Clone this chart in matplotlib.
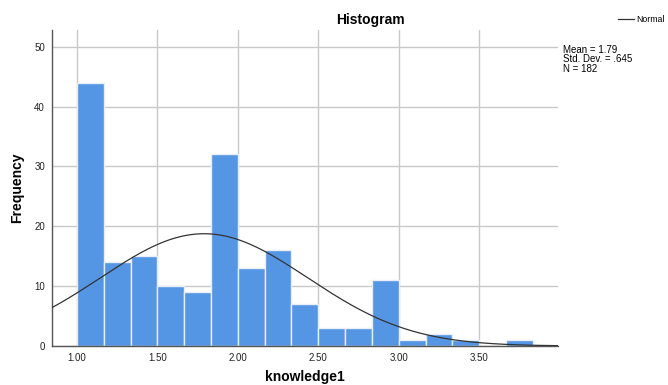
import numpy as np
import matplotlib
matplotlib.use("Agg")
import matplotlib.pyplot as plt

# Data
bin_start = 1.0
bin_width = 1.0 / 6.0
counts = [44, 14, 15, 10, 9, 32, 13, 16, 7, 3, 3, 11, 1, 2, 1, 0, 1]
mean_val = 1.79
std_val = 0.645
n_val = 182
x_ticks = [1.0, 1.5, 2.0, 2.5, 3.0, 3.5]
x_tick_labels = ["1.00", "1.50", "2.00", "2.50", "3.00", "3.50"]
y_ticks = [0, 10, 20, 30, 40, 50]

plt.rcParams['font.family'] = ['Liberation Sans', 'DejaVu Sans']

W, H = 668, 385
fig = plt.figure(figsize=(W / 100, H / 100), dpi=100)
ax = fig.add_axes([52 / W, 1 - 346 / H, (558 - 52) / W, (346 - 30) / H])

edges = bin_start + bin_width * np.arange(len(counts) + 1)
ax.bar(edges[:-1], counts, width=bin_width, align='edge', color='#5596e4',
       edgecolor='#e8eef8', linewidth=1.0, zorder=2)

xs = np.linspace(0.845, 3.99, 400)
ys = n_val * bin_width / (std_val * np.sqrt(2 * np.pi)) * np.exp(-0.5 * ((xs - mean_val) / std_val) ** 2)
ax.plot(xs, ys, color='#333333', linewidth=0.9, zorder=3)

ax.set_xlim(0.845, 3.99)
ax.set_ylim(0, 52.8)
ax.set_xticks(x_ticks)
ax.set_xticklabels(x_tick_labels)
ax.set_yticks(y_ticks)
ax.grid(True, color='#c8c8c8', linewidth=1.0, zorder=0)
ax.set_axisbelow(True)
for s in ['top', 'right']:
    ax.spines[s].set_visible(False)
for s in ['left', 'bottom']:
    ax.spines[s].set_color('#555555')
    ax.spines[s].set_linewidth(1.0)
ax.tick_params(length=0, labelsize=7, colors='#222222', pad=5)

fig.text(370 / W, 1 - 20 / H, "Histogram", ha='center', va='center',
         fontsize=10, fontweight='bold')
fig.text(17 / W, 1 - 188 / H, "Frequency", ha='center', va='center',
         rotation=90, fontsize=10, fontweight='bold')
fig.text(305 / W, 1 - 377 / H, "knowledge1", ha='center', va='center',
         fontsize=10, fontweight='bold')

fig.text(563 / W, 1 - 59.5 / H, "Mean = 1.79\nStd. Dev. = .645\nN = 182",
         ha='left', va='center', fontsize=7, linespacing=0.9)

fig.add_artist(plt.Line2D([618 / W, 634 / W], [1 - 19 / H, 1 - 19 / H],
                          color='#333333', linewidth=0.9))
fig.text(636 / W, 1 - 19 / H, "Normal", ha='left', va='center', fontsize=6.3)

fig.savefig("out.png", dpi=100)
